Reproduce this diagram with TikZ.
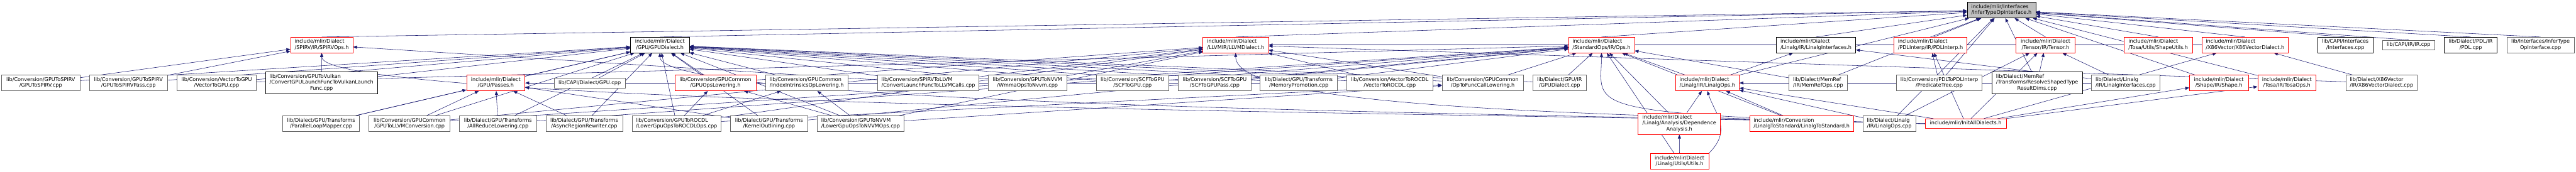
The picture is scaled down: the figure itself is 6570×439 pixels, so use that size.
\documentclass[tikz,border=0pt]{standalone}
\usepackage{fontspec}
\setmainfont{DejaVu Sans}
\usetikzlibrary{arrows.meta, backgrounds}
\definecolor{depblue}{HTML}{191970}
\definecolor{undocgrey}{HTML}{666666}
\definecolor{rootgrey}{HTML}{BFBFBF}

% Beschriftungen wie bei Doxygen: obere Zeilen linksbuendig, letzte Zeile zentriert
\newcommand{\oneline}[1]{\begin{tabular}{@{}c@{}}#1\end{tabular}}
\newcommand{\twoline}[2]{\begin{tabular}{@{}l@{}}#1\\\multicolumn{1}{@{}c@{}}{#2}\end{tabular}}
\newcommand{\threeline}[3]{\begin{tabular}{@{}l@{}}#1\\#2\\\multicolumn{1}{@{}c@{}}{#3}\end{tabular}}

\begin{document}
\begin{tikzpicture}[
    x=1pt, y=-1pt,
    file/.style={draw=undocgrey, line width=1pt, rectangle, fill=white, inner xsep=10pt, inner ysep=5pt, font=\fontsize{13}{15}\selectfont},
    docfile/.style={file, draw=black},
    cutfile/.style={file, draw=red},
    rootfile/.style={file, draw=black, fill=rootgrey},
    dep/.style={draw=depblue, line width=0.9pt, -{Triangle[length=10pt, width=8pt]}}
]
\useasboundingbox (0,0) rectangle (6570,439);

% --- KNOTEN ---
% Wurzel
\node[rootfile, minimum width=175pt] (infer) at (5104.5,26) {\twoline{include/mlir/Interfaces}{/InferTypeOpInterface.h}};

% Ebene 1
\node[cutfile, minimum width=159pt] (spirvops) at (820.5,115) {\twoline{include/mlir/Dialect}{/SPIRV/IR/SPIRVOps.h}};
\node[docfile, minimum width=150pt] (gpudialect) at (1683,115) {\twoline{include/mlir/Dialect}{/GPU/GPUDialect.h}};
\node[cutfile, minimum width=167pt] (llvmdialect) at (3151.5,115) {\twoline{include/mlir/Dialect}{/LLVMIR/LLVMDialect.h}};
\node[cutfile, minimum width=167pt] (stdops) at (4084.5,115) {\twoline{include/mlir/Dialect}{/StandardOps/IR/Ops.h}};
\node[docfile, minimum width=203pt] (linalgif) at (4631.5,115) {\twoline{include/mlir/Dialect}{/Linalg/IR/LinalgInterfaces.h}};
\node[cutfile, minimum width=185pt] (pdlinterp) at (4923.5,115) {\twoline{include/mlir/Dialect}{/PDLInterp/IR/PDLInterp.h}};
\node[cutfile, minimum width=150pt] (tensor) at (5217,115) {\twoline{include/mlir/Dialect}{/Tensor/IR/Tensor.h}};
\node[cutfile, minimum width=175pt] (shapeutils) at (5504.5,115) {\twoline{include/mlir/Dialect}{/Tosa/Utils/ShapeUtils.h}};
\node[cutfile, minimum width=220pt] (x86h) at (5726,115) {\twoline{include/mlir/Dialect}{/X86Vector/X86VectorDialect.h}};
\node[docfile, minimum width=141pt] (capiif) at (5981.5,115) {\twoline{lib/CAPI/Interfaces}{/Interfaces.cpp}};
\node[file, minimum width=134pt] (capiir) at (6143,115) {\oneline{lib/CAPI/IR/IR.cpp}};
\node[docfile, minimum width=135pt] (pdlcpp) at (6301.5,115) {\twoline{lib/Dialect/PDL/IR}{/PDL.cpp}};
\node[file, minimum width=171pt] (infercpp) at (6479.5,115) {\twoline{lib/Interfaces/InferType}{OpInterface.cpp}};

% Ebene 2
\node[file, minimum width=200pt] (gpuspirv) at (104,212) {\twoline{lib/Conversion/GPUToSPIRV}{/GPUToSPIRV.cpp}};
\node[file, minimum width=199pt] (gpuspirvpass) at (327.5,212) {\twoline{lib/Conversion/GPUToSPIRV}{/GPUToSPIRVPass.cpp}};
\node[file, minimum width=203pt] (vectogpu) at (552.5,212) {\twoline{lib/Conversion/VectorToGPU}{/VectorToGPU.cpp}};
\node[docfile, minimum width=284pt] (vulkan) at (820,211.5) {\threeline{lib/Conversion/GPUToVulkan}{/ConvertGPULaunchFuncToVulkanLaunch}{Func.cpp}};
\node[cutfile, minimum width=149pt] (gpupasses) at (1264.5,212) {\twoline{include/mlir/Dialect}{/GPU/Passes.h}};
\node[file, minimum width=182pt] (capigpu) at (1504,212) {\oneline{lib/CAPI/Dialect/GPU.cpp}};
\node[cutfile, minimum width=207pt] (gpuopslow) at (1824.5,212) {\twoline{lib/Conversion/GPUCommon}{/GPUOpsLowering.h}};
\node[file, minimum width=211pt] (indexlow) at (2057.5,212) {\twoline{lib/Conversion/GPUCommon}{/IndexIntrinsicsOpLowering.h}};
\node[file, minimum width=259pt] (launchllvm) at (2367.5,212) {\twoline{lib/Conversion/SPIRVToLLVM}{/ConvertLaunchFuncToLLVMCalls.cpp}};
\node[file, minimum width=201pt] (wmma) at (2620.5,212) {\twoline{lib/Conversion/GPUToNVVM}{/WmmaOpsToNvvm.cpp}};
\node[file, minimum width=185pt] (scfgpu) at (2888.5,212) {\twoline{lib/Conversion/SCFToGPU}{/SCFToGPU.cpp}};
\node[file, minimum width=186pt] (scfgpupass) at (3098,212) {\twoline{lib/Conversion/SCFToGPU}{/SCFToGPUPass.cpp}};
\node[file, minimum width=197pt] (mempromo) at (3312.5,212) {\twoline{lib/Dialect/GPU/Transforms}{/MemoryPromotion.cpp}};
\node[file, minimum width=219pt] (vecrocdl) at (3544.5,212) {\twoline{lib/Conversion/VectorToROCDL}{/VectorToROCDL.cpp}};
\node[file, minimum width=207pt] (opfunccall) at (3781.5,212) {\twoline{lib/Conversion/GPUCommon}{/OpToFuncCallLowering.h}};
\node[file, minimum width=137pt] (gpudialectcpp) at (3977.5,212) {\twoline{lib/Dialect/GPU/IR}{/GPUDialect.cpp}};
\node[cutfile, minimum width=163pt] (linalgops) at (4354.5,212) {\twoline{include/mlir/Dialect}{/Linalg/IR/LinalgOps.h}};
\node[file, minimum width=148pt] (memrefops) at (4637,212) {\twoline{lib/Dialect/MemRef}{/IR/MemRefOps.cpp}};
\node[file, minimum width=218pt] (predtree) at (4946,212) {\twoline{lib/Conversion/PDLToPDLInterp}{/PredicateTree.cpp}};
\node[docfile, minimum width=231pt] (resolvedims) at (5195.5,211.5) {\threeline{lib/Dialect/MemRef}{/Transforms/ResolveShapedType}{ResultDims.cpp}};
\node[file, minimum width=175pt] (linalgifcpp) at (5421.5,212) {\twoline{lib/Dialect/Linalg}{/IR/LinalgInterfaces.cpp}};
\node[cutfile, minimum width=150pt] (shapeh) at (5659,212) {\twoline{include/mlir/Dialect}{/Shape/IR/Shape.h}};
\node[cutfile, minimum width=149pt] (tosaops) at (5832.5,212) {\twoline{include/mlir/Dialect}{/Tosa/IR/TosaOps.h}};
\node[file, minimum width=182pt] (x86cpp) at (6074,212) {\twoline{lib/Dialect/X86Vector}{/IR/X86VectorDialect.cpp}};

% Ebene 3
\node[file, minimum width=196pt] (parloop) at (819,316) {\twoline{lib/Dialect/GPU/Transforms}{/ParallelLoopMapper.cpp}};
\node[file, minimum width=207pt] (gpullvm) at (1044.5,316) {\twoline{lib/Conversion/GPUCommon}{/GPUToLLVMConversion.cpp}};
\node[file, minimum width=196pt] (allreduce) at (1270,316) {\twoline{lib/Dialect/GPU/Transforms}{/AllReduceLowering.cpp}};
\node[file, minimum width=196pt] (asyncrr) at (1490,316) {\twoline{lib/Dialect/GPU/Transforms}{/AsyncRegionRewriter.cpp}};
\node[file, minimum width=227pt] (rocdlops) at (1725.5,316) {\twoline{lib/Conversion/GPUToROCDL}{/LowerGpuOpsToROCDLOps.cpp}};
\node[file, minimum width=197pt] (kerneloutl) at (1961.5,316) {\twoline{lib/Dialect/GPU/Transforms}{/KernelOutlining.cpp}};
\node[file, minimum width=222pt] (nvvmops) at (2195,316) {\twoline{lib/Conversion/GPUToNVVM}{/LowerGpuOpsToNVVMOps.cpp}};
\node[cutfile, minimum width=210pt] (depanalysis) at (4283,316) {\threeline{include/mlir/Dialect}{/Linalg/Analysis/Dependence}{Analysis.h}};
\node[cutfile, minimum width=264pt] (linalgtostd) at (4595,316) {\twoline{include/mlir/Conversion}{/LinalgToStandard/LinalgToStandard.h}};
\node[file, minimum width=135pt] (linalgopscpp) at (4818.5,316) {\twoline{lib/Dialect/Linalg}{/IR/LinalgOps.cpp}};
\node[cutfile, minimum width=207pt] (initall) at (5013.5,316) {\oneline{include/mlir/InitAllDialects.h}};

% Ebene 4
\node[cutfile, minimum width=149pt] (linalgutils) at (4283.5,412) {\twoline{include/mlir/Dialect}{/Linalg/Utils/Utils.h}};

% --- KANTEN ---
\begin{scope}[on background layer]
% Header der ersten Ebene zur Wurzel
\foreach \s in {spirvops, gpudialect, llvmdialect, stdops, linalgif, pdlinterp, tensor, shapeutils, x86h, capiif, capiir, pdlcpp, infercpp}
    \draw[dep] (\s.north) -- (infer);
\foreach \s in {linalgops, memrefops, predtree, resolvedims, shapeh, tosaops, linalgopscpp}
    \draw[dep] (\s) -- (infer);

\foreach \s in {gpuspirv, gpuspirvpass, vulkan, launchllvm}
    \draw[dep] (\s) -- (spirvops);
\foreach \s in {gpuspirv, gpuspirvpass, vectogpu, vulkan, gpupasses, capigpu, gpuopslow, indexlow, launchllvm, wmma, scfgpu, scfgpupass, mempromo, vecrocdl, opfunccall, gpudialectcpp, parloop, gpullvm, allreduce, asyncrr, kerneloutl, rocdlops, nvvmops}
    \draw[dep] (\s) -- (gpudialect);
\foreach \s in {parloop, gpullvm, allreduce, asyncrr, kerneloutl, mempromo}
    \draw[dep] (\s) -- (gpupasses);
\foreach \s in {rocdlops, nvvmops} {
    \draw[dep] (\s) -- (gpuopslow);
    \draw[dep] (\s) -- (indexlow);
    \draw[dep] (\s) -- (opfunccall);
}
\foreach \s in {gpuopslow, launchllvm, wmma, vecrocdl, opfunccall, gpullvm, rocdlops, nvvmops, x86h, x86cpp}
    \draw[dep] (\s) -- (llvmdialect);
\foreach \s in {vectogpu, scfgpu, scfgpupass, mempromo, opfunccall, gpudialectcpp, allreduce, kerneloutl, gpullvm, linalgops, memrefops, depanalysis, linalgtostd, linalgutils}
    \draw[dep] (\s) -- (stdops);
\foreach \s in {linalgops, linalgifcpp}
    \draw[dep] (\s) -- (linalgif);
\foreach \s in {depanalysis, linalgtostd, linalgopscpp, linalgifcpp}
    \draw[dep] (\s) -- (linalgops);
\draw[dep] (linalgutils.north east) .. controls +(60,-60) and +(20,60) .. (linalgops.south);
\draw[dep] (linalgutils) -- (depanalysis);
\draw[dep] (predtree) -- (pdlinterp);
\foreach \s in {resolvedims, linalgifcpp, linalgopscpp}
    \draw[dep] (\s) -- (tensor);
\draw[dep] (x86cpp) -- (x86h);

% InitAllDialects.h
\foreach \t in {spirvops, gpudialect, llvmdialect, stdops}
    \draw[dep] (initall.west) .. controls +(-900,-25) and +(0,140) .. (\t.south);
\foreach \t in {linalgops, pdlinterp, tensor, shapeh, tosaops, x86h}
    \draw[dep] (initall) -- (\t);
\end{scope}
\end{tikzpicture}
\end{document}
